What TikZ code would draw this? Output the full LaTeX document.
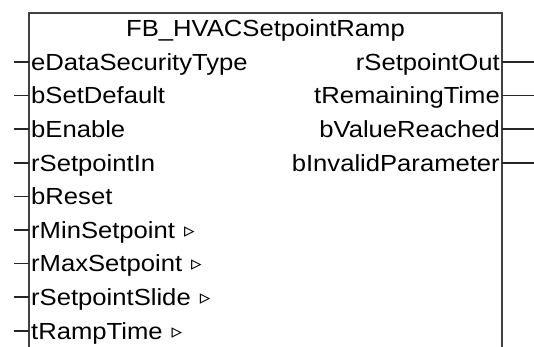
\documentclass[tikz,border=0pt]{standalone}
\usepackage{fontspec}
\setmainfont{Liberation Sans}[FakeStretch=1.1]
\newfontfamily\symfont{DejaVu Sans}
\newcommand{\tri}{\hspace{9pt}\raisebox{1pt}{\symfont\fontsize{21}{21}\selectfont ▹}}
\begin{document}
\begin{tikzpicture}[x=1pt,y=-1pt,
  lbl/.style={inner sep=0pt, font=\fontsize{23.3}{28}\selectfont},
  inl/.style={lbl, anchor=base west},
  outl/.style={lbl, anchor=base east},
  border/.style={draw=black!75, line width=2pt},
  stub/.style={draw=black!85, line width=1.6pt}]
\useasboundingbox (0,0) rectangle (534,347);
\fill[white] (0,0) rectangle (534,347);
% box
\coordinate (bl) at (29,360);
\coordinate (tl) at (29,13);
\coordinate (tr) at (502,13);
\coordinate (br) at (502,360);
\draw[border] (bl) -- (tl) -- (tr) -- (br);
\node[lbl, anchor=base] (title) at (265.5,36.5) {FB\_HVACSetpointRamp};
% inputs
\foreach \name/\txt [count=\i from 0] in {
  i0/eDataSecurityType, i1/bSetDefault, i2/bEnable, i3/rSetpointIn,
  i4/bReset, i5/rMinSetpoint\tri, i6/rMaxSetpoint\tri,
  i7/rSetpointSlide\tri, i8/tRampTime\tri}{
  \pgfmathsetmacro{\yy}{62+33.6*\i}
  \coordinate (\name p) at (29,\yy);
  \coordinate (\name s) at (14,\yy);
  \node[inl] (\name) at (31,\yy+8.3) {\txt};
  \draw[stub] (\name s) -- (\name p);
}
% outputs
\foreach \name/\txt [count=\i from 0] in {
  o0/rSetpointOut, o1/tRemainingTime, o2/bValueReached, o3/bInvalidParameter}{
  \pgfmathsetmacro{\yy}{62+33.6*\i}
  \coordinate (\name p) at (502,\yy);
  \coordinate (\name s) at (534,\yy);
  \node[outl] (\name) at (500,\yy+8.3) {\txt};
  \draw[stub] (\name p) -- (\name s);
}
\end{tikzpicture}
\end{document}
